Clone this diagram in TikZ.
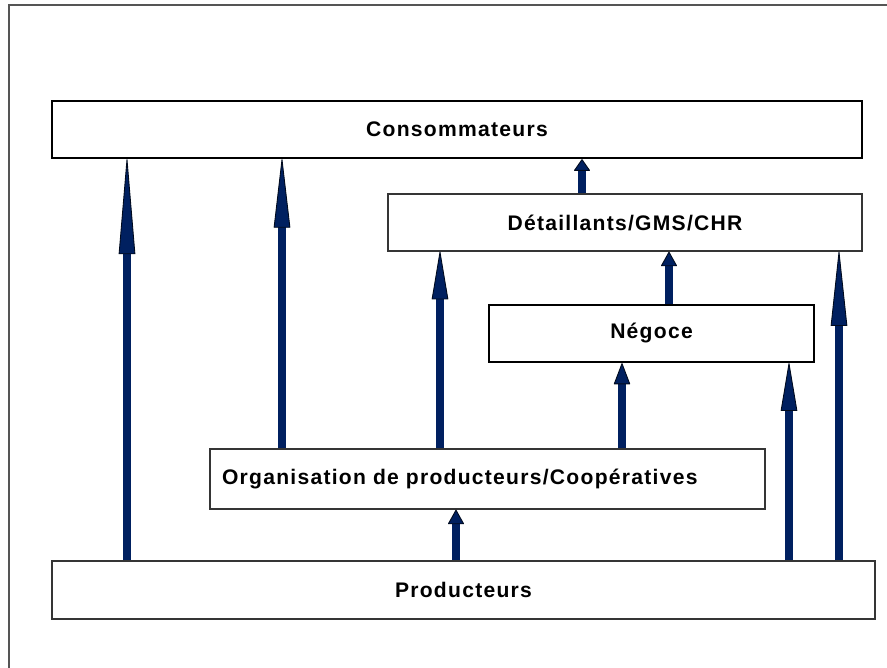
\documentclass[tikz,border=0pt]{standalone}
\usepackage{fontspec}
\setmainfont{Liberation Sans}
\newfontfamily\boxfont[LetterSpace=6]{Liberation Sans}
\usepackage{tikz}
\usepackage{xcolor}
\usetikzlibrary{arrows.meta,positioning,calc}
\definecolor{ink}{HTML}{111111}
\definecolor{framegray}{HTML}{555555}
\definecolor{navy}{HTML}{002060}
\tikzset{
  level/.style={draw=ink!85,fill=white,line width=0.8pt,
                minimum height=1.14cm,inner sep=0pt,
                font=\boxfont\bfseries\fontsize{12}{14}\selectfont},
  strong/.style={level,draw=black,line width=1.3pt},
  flow/.style={line width=4.6pt,draw=navy,
               -{Triangle[length=#1,width=0.33cm,line width=0.5pt,round,
                          color=black!70!navy,fill=navy]}},
  flow/.default=0.5cm
}
\begin{document}
\begin{tikzpicture}[x=1cm,y=1cm]
    \path[use as bounding box] (0,0) rectangle (17.74,13.36);
    \draw[framegray,line width=0.8pt] (0.18,0) -- (0.18,13.26) -- (17.74,13.26);

    \node[strong,minimum width=16.2cm] (cons) at (9.14,10.77) {Consommateurs};
    \node[level,minimum width=9.48cm] (detail) at (12.5,8.91) {Détaillants/GMS/CHR};
    \node[strong,minimum width=6.5cm] (negoce) at (13.03,6.69) {Négoce};
    \node[level,minimum width=11.1cm,minimum height=1.2cm,
          text width=10.62cm,align=left] (orga) at (9.75,3.78)
      {Organisation de producteurs/Coopératives};
    \node[level,minimum width=16.46cm,minimum height=1.16cm] (prod) at (9.27,1.56)
      {Producteurs};

    % columns of the arrows
    \coordinate (c1) at (2.54,0);
    \coordinate (c2) at (5.64,0);
    \coordinate (c3) at (8.80,0);
    \coordinate (c4) at (12.44,0);
    \coordinate (c5) at (13.38,0);
    \coordinate (c6) at (11.64,0);
    \coordinate (c7) at (9.12,0);
    \coordinate (c8) at (15.78,0);
    \coordinate (c9) at (16.78,0);

    \draw[flow=2.0cm] (prod.north -| c1) -- (cons.south -| c1);
    \draw[flow=1.44cm] (orga.north -| c2) -- (cons.south -| c2);
    \draw[flow=1.0cm] (orga.north -| c3) -- (detail.south -| c3);
    \draw[flow=0.44cm] (orga.north -| c4) -- (negoce.south -| c4);
    \draw[flow=0.3cm] (negoce.north -| c5) -- (detail.south -| c5);
    \draw[flow=0.24cm] (detail.north -| c6) -- (cons.south -| c6);
    \draw[flow=0.3cm] (prod.north -| c7) -- (orga.south -| c7);
    \draw[flow=1.0cm] (prod.north -| c8) -- (negoce.south -| c8);
    \draw[flow=1.56cm] (prod.north -| c9) -- (detail.south -| c9);
\end{tikzpicture}
\end{document}
